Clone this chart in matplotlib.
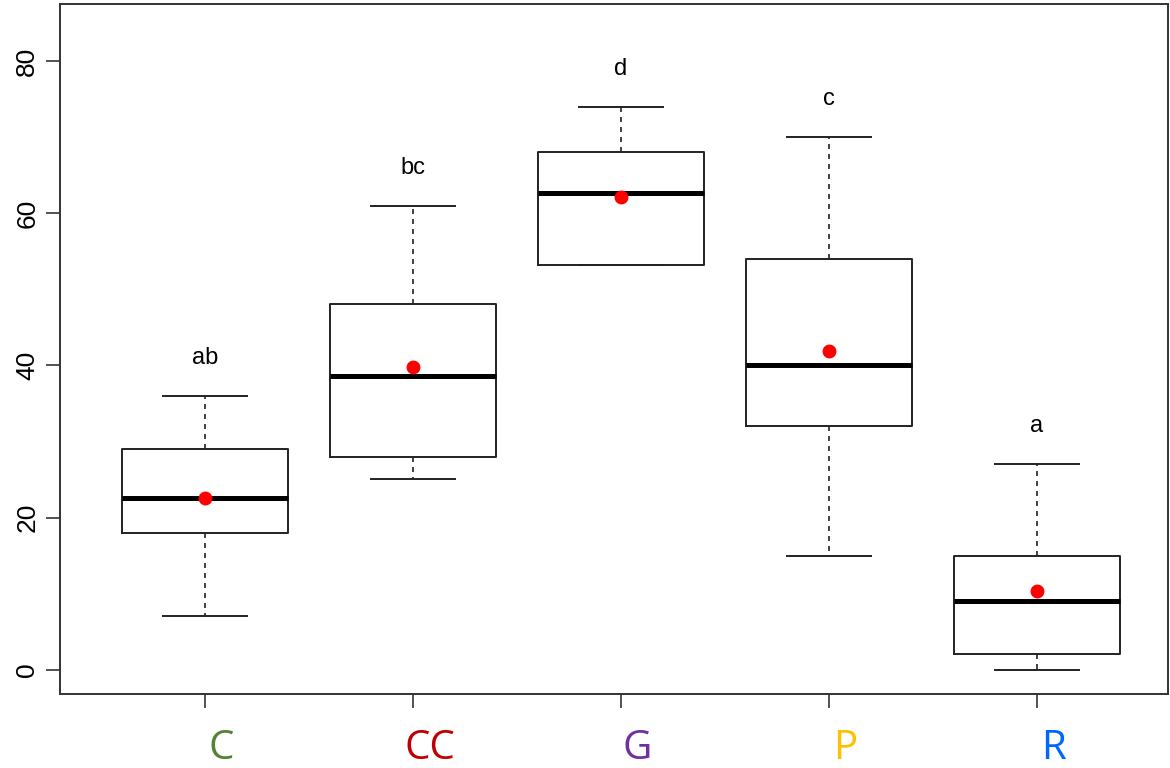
import matplotlib.pyplot as plt

# groups and box statistics
groups = ['C', 'CC', 'G', 'P', 'R']
label_colors = ['#548235', '#C00000', '#7030A0', '#FFC000', '#0066FF']
whisker_lo = [7, 25, 53.2, 15, 0]
q1 = [18, 28, 53.2, 32, 2]
median = [22.6, 38.6, 62.6, 40, 9]
q3 = [29, 48, 68, 54, 15]
whisker_hi = [36, 61, 74, 70, 27]
means = [22.6, 39.8, 62.1, 41.9, 10.4]
letters = ['ab', 'bc', 'd', 'c', 'a']

fig = plt.figure(figsize=(11.7, 7.68), dpi=100)
ax = fig.add_axes([60 / 1170, 74 / 768, 1108 / 1170, 690 / 768])

stats = []
for i, g in enumerate(groups):
    stats.append(dict(label=g, whislo=whisker_lo[i], q1=q1[i], med=median[i],
                      q3=q3[i], whishi=whisker_hi[i], fliers=[]))

pos = list(range(1, len(groups) + 1))
ax.bxp(stats, positions=pos, widths=0.8, showfliers=False,
       boxprops=dict(color='#222222', linewidth=1.4),
       medianprops=dict(color='black', linewidth=3.6, solid_capstyle='butt'),
       whiskerprops=dict(color='#222222', linewidth=1.2, linestyle=(0, (3, 3))),
       capprops=dict(color='#222222', linewidth=1.4), capwidths=0.4)

ax.plot(pos, means, 'o', color='red', markersize=9, zorder=5)

for i, t in enumerate(letters):
    ax.text(pos[i], whisker_hi[i] + 5, t, ha='center', va='center',
            fontsize=17, family='Liberation Sans')

ax.set_xlim(0.303, 5.63)
ax.set_ylim(-3.2, 87.5)
ax.set_yticks([0, 20, 40, 60, 80])
ax.set_yticklabels(['0', '20', '40', '60', '80'], rotation=90, va='center',
                   fontsize=19, family='Liberation Sans')
ax.set_xticks(pos)
ax.set_xticklabels([''] * len(groups))
ax.tick_params(length=10, width=1.2, color='#333333')
ax.tick_params(axis='y', pad=5)
for s in ax.spines.values():
    s.set_color('#333333')
    s.set_linewidth(1.4)

# coloured group names under the axis
for i, g in enumerate(groups):
    ax.text(pos[i] + 0.08, -0.08, g, transform=ax.get_xaxis_transform(),
            ha='center', va='center', fontsize=29, color=label_colors[i],
            family='Open Sans')

fig.savefig('out.png', dpi=100)
